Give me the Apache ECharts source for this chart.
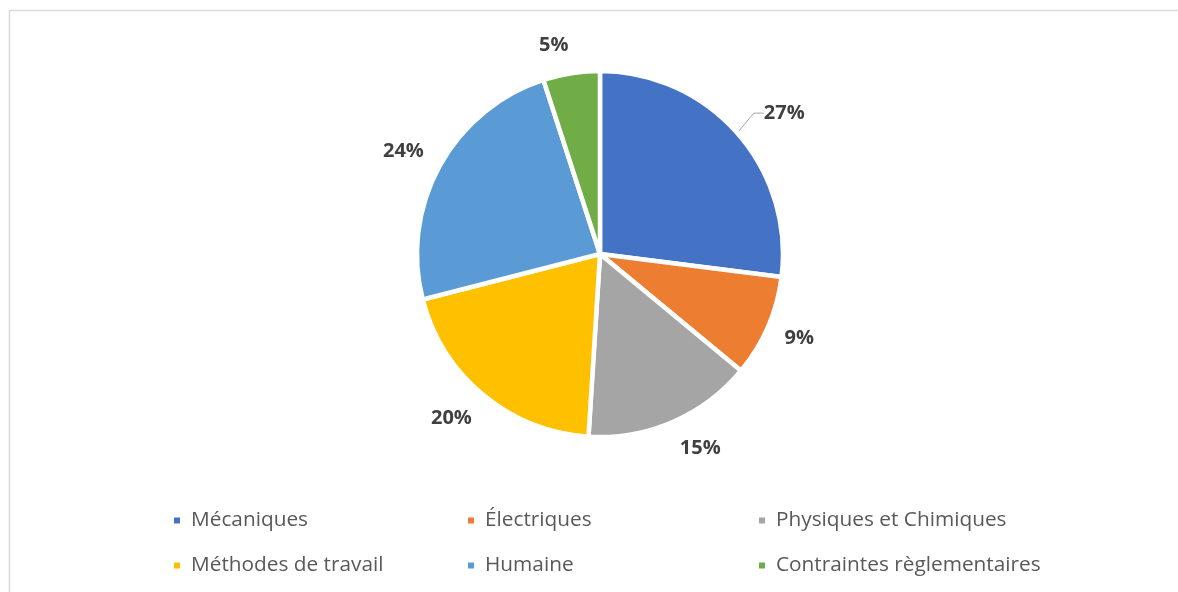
<!DOCTYPE html>
<html>
<head>
<meta charset="utf-8">
<script src="https://cdn.jsdelivr.net/npm/echarts@6/dist/echarts.min.js"></script>
<style>
  html, body { margin: 0; padding: 0; background: #fff; }
  #chart { width: 1178px; height: 592px; }
</style>
</head>
<body>
<div id="chart"></div>
<script>
// Répartition des causes par famille (%)
const categories = ['Mécaniques', 'Électriques', 'Physiques et Chimiques', 'Méthodes de travail', 'Humaine', 'Contraintes règlementaires'];
const shares = [27, 9, 15, 20, 24, 5];
const palette = ['#4472C4', '#ED7D31', '#A5A5A5', '#FFC000', '#5B9BD5', '#70AD47'];

const CX = 600, CY = 254, R = 183;
const FONT = '"Open Sans", Lato, "Liberation Sans", sans-serif';

// mid angle of each slice, clockwise from 12 o'clock
const total = shares.reduce((a, b) => a + b, 0);
const midAngles = [];
let acc = 0;
shares.forEach(v => { midAngles.push((acc + v / 2) / total * 2 * Math.PI); acc += v; });

const pieData = categories.map((name, i) => ({
  name: name,
  value: shares[i],
  labelLine: { show: i === 0 }
}));

function legendColumn(names, left) {
  return {
    orient: 'vertical',
    left: left,
    top: 503,
    itemGap: 20,
    itemWidth: 8,
    itemHeight: 8,
    icon: 'rect',
    selectedMode: false,
    data: names,
    textStyle: { color: '#595959', fontSize: 20.8, fontFamily: FONT, lineHeight: 25, padding: [0, 0, 0, 5] }
  };
}

const clamp = (v, lo, hi) => Math.max(lo, Math.min(hi, v));

const chart = echarts.init(document.getElementById('chart'), null, { renderer: 'canvas' });
chart.setOption({
  animation: false,
  color: palette,
  graphic: [{
    type: 'rect',
    silent: true,
    shape: { x: 9.5, y: 10.5, width: 1300, height: 700 },
    style: { fill: 'none', stroke: '#d9d9d9', lineWidth: 1.5 }
  }],
  legend: [
    legendColumn([categories[0], categories[3]], 167),
    legendColumn([categories[1], categories[4]], 461),
    legendColumn([categories[2], categories[5]], 752)
  ],
  series: [{
    type: 'pie',
    center: [CX, CY],
    radius: R,
    startAngle: 90,
    clockwise: true,
    data: pieData,
    itemStyle: { borderColor: '#ffffff', borderWidth: 4.5 },
    label: {
      show: true,
      position: 'outside',
      formatter: '{c}%',
      color: '#404040',
      fontSize: 20,
      fontWeight: 'bold',
      fontFamily: FONT
    },
    labelLine: {
      length: 12,
      length2: 10,
      lineStyle: { color: '#a6a6a6', width: 1 }
    },
    // place each label box just outside the rim, beyond the slice's mid angle
    labelLayout: function (p) {
      const a = midAngles[p.dataIndex];
      const s = Math.sin(a), c = Math.cos(a);
      const w = p.labelRect.width, h = p.labelRect.height;
      const gap = 18;
      const ex = CX + R * s, ey = CY - R * c;
      const push = p.dataIndex === 0 ? 13 : 0; // first label sits further out, on a leader line
      const x = ex + gap * s + Math.sign(s) * (w / 2 + push);
      const y = ey - gap * c + clamp(-c * 1.2, -1, 1) * h / 2;
      return { x: x, y: y, align: 'center', verticalAlign: 'middle' };
    }
  }]
});
</script>
</body>
</html>
